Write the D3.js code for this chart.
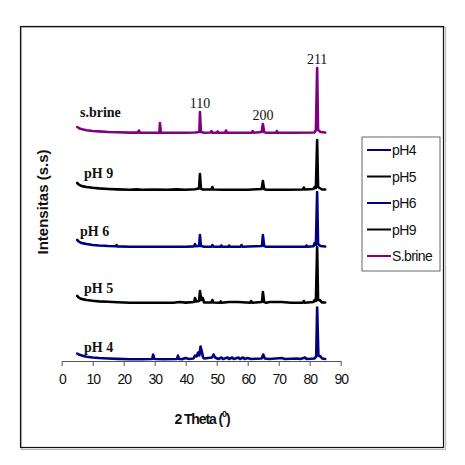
<!DOCTYPE html>
<html>
<head>
<meta charset="utf-8">
<script src="https://cdn.jsdelivr.net/npm/d3@7"></script>
<style>
body{margin:0;background:#fff;}
svg{display:block;}
</style>
</head>
<body>
<svg id="chart" width="465" height="465"></svg>
<script>
// series names, drawing order = legend order
var seriesNames=["pH4","pH5","pH6","pH9","S.brine"];
var seriesColors=["#000080","#000000","#000080","#000000","#800080"];
var curveLabels=["pH 4","pH 5","pH 6","pH 9","s.brine"];
// vertical offset of each pattern (stacked plot, intensity units)
var offsets=[1.5,58,114,171,228];
var xTicks=[0,10,20,30,40,50,60,70,80,90];

// [2theta, intensity]
var pH4=[[5,6],[5.5,5],[6,4.5],[7,3.5],[8,2.8],[10,2],[12,1.5],[15,1],[18,0.6],[22,0.3],[26,0.3],[29.2,0.5],[29.5,5],[29.9,0.5],[33,0.3],[37.2,0.5],[37.5,4],[37.8,0.5],[39,0.4],[40,1.5],[41,0.5],[42.5,1],[43,4],[43.5,3],[44,7],[44.4,4],[44.8,13],[45.2,8],[45.6,2],[46,1],[48.5,2],[49,5],[49.5,2],[50.5,0.5],[51.5,2],[52,0.5],[53.5,2],[54,0.5],[55,2],[55.5,0.5],[57,2],[57.5,0.5],[58.5,2],[59,0.5],[60,1.5],[61,0.5],[64.5,1],[65,5],[65.5,1],[67,0.5],[71,1.5],[72,0.5],[76,1],[77,0.5],[78.5,2],[79,0.5],[81.5,1],[82.1,3],[82.4,52],[82.8,4],[83.5,3],[84,1],[85,0.5]];
var pH5=[[5,7],[5.5,5.5],[6,4.5],[7,3.6],[8,3],[10,2.2],[12,1.6],[15,1.2],[18,0.8],[22,0.3],[24,0.2],[30,0.2],[36,0.3],[38,1],[40,0.4],[42.7,1],[43,5],[43.4,1.5],[44.3,2],[44.6,12],[45,3],[45.5,5],[45.9,0.6],[48.3,0.5],[48.6,3],[48.9,0.5],[51,0.3],[51.3,1.5],[51.6,0.3],[54,1],[57,1],[60.8,0.3],[61.1,2],[61.4,0.3],[64.6,1],[64.9,11],[65.3,1],[66,0.3],[67,1],[71,1],[74,0.3],[77.8,0.3],[78.1,2],[78.4,0.3],[81.2,1],[81.6,3],[82,2],[82.4,56],[82.7,3],[83.2,3],[84,0.5],[85,0.5]];
var pH6=[[5,7],[5.5,5.5],[6,4.6],[7,3.6],[8,3],[10,2],[12,1.5],[15,1],[17.5,0.8],[17.7,2],[17.9,0.6],[22,0.3],[26,0.2],[30,0.3],[35,0.3],[40,0.3],[42.7,0.6],[43,3],[43.3,0.8],[44.3,1],[44.6,12],[44.9,1],[46,0.3],[48.3,0.3],[48.6,2],[48.9,0.3],[51.2,0.3],[51.5,1.5],[51.8,0.3],[53.8,0.3],[54,1.5],[54.3,0.3],[57.7,0.3],[58,2],[58.3,0.3],[64.6,1],[64.9,12],[65.3,1],[66,0.3],[72,0.3],[78.7,0.3],[79,1.5],[79.3,0.3],[81.2,0.8],[81.6,4],[82,2],[82.4,55],[82.7,3],[83.5,1],[85,0.5]];
var pH9=[[5,7],[5.5,5.5],[6,4.6],[7,3.6],[8,3],[10,2.2],[12,1.6],[15,1],[18,0.6],[22,0.3],[24,0.6],[26,0.2],[30,0.5],[34,0.2],[37,0.6],[40,0.3],[43,0.8],[44.3,1.5],[44.6,16],[44.9,1.5],[45.5,0.5],[48.3,0.5],[48.6,3],[48.9,0.5],[52,0.3],[55,0.3],[60,0.3],[64.5,1],[64.9,9],[65.3,1],[66,0.3],[72,0.3],[77.8,0.5],[78.1,2.5],[78.4,0.5],[81.2,1],[81.6,3],[82,2],[82.4,50],[82.7,3],[83.2,2],[84,0.5],[85,0.5]];
var sBrine=[[5,6],[5.5,5],[6,4.3],[7,3.5],[8,2.8],[10,2],[12,1.6],[15,1],[18,0.7],[22,0.4],[24.6,0.4],[24.9,2.5],[25.2,0.4],[28,0.3],[31.5,0.3],[31.7,10],[32,0.3],[36,0.2],[40,0.2],[43,0.5],[44.4,1],[44.6,21],[44.9,1],[46,0.3],[48,0.5],[48.3,2],[48.6,0.3],[50,0.3],[50.3,1.5],[50.6,0.3],[52.7,0.3],[53,2.5],[53.3,0.3],[58,0.2],[61.3,0.3],[61.6,2],[61.9,0.3],[64.5,1],[64.9,9],[65.3,1],[66,0.3],[69.2,0.3],[69.4,2],[69.6,0.3],[75,0.2],[81.5,0.5],[82,3],[82.4,65],[82.7,3],[83.5,1],[85,0.5]];
var allSeries=[pH4,pH5,pH6,pH9,sBrine];

// hkl labels over s.brine peaks
var hklLabels=["110","200","211"];
var hklPos=[44.6,64.9,82.4];
var hklHeight=[21,9,65];

var svg=d3.select("#chart");

// outer frame
svg.append("rect").attr("x",21.5).attr("y",27.5).attr("width",424).attr("height",422)
	.attr("fill","none").attr("stroke","#bbb").attr("stroke-width",1.2);
svg.append("rect").attr("x",20.5).attr("y",26.5).attr("width",423).attr("height",421)
	.attr("fill","none").attr("stroke","#111").attr("stroke-width",1.2);

var x=d3.scaleLinear().domain([0,90]).range([61.7,340.7]);
var y=d3.scaleLinear().domain([0,300]).range([361,61]);

var xAxis=d3.axisBottom(x).tickValues(xTicks).tickSize(5).tickSizeOuter(0).tickPadding(8);
var gx=svg.append("g").attr("transform","translate(0,361)").call(xAxis);
gx.select(".domain").attr("stroke","#555").attr("stroke-width",1);
gx.selectAll(".tick line").attr("stroke","#555");
gx.selectAll("text").attr("font-family","'Liberation Sans',Arial,sans-serif")
	.attr("font-size",14).attr("letter-spacing",-1.2).attr("fill","#111");

var line=d3.line().x(d=>x(d[0]));

allSeries.forEach(function(s,i){
	line.y(d=>y(d[1]+offsets[i]));
	svg.append("path").datum(s)
		.attr("d",line)
		.attr("fill","none")
		.attr("stroke",seriesColors[i])
		.attr("stroke-width",2.6)
		.attr("stroke-linejoin","round")
		.attr("stroke-linecap","round");
});

// curve labels
var labelX=[84,84,80,84,80];
var labelDy=[8,10,11,12,16];
curveLabels.forEach(function(t,i){
	svg.append("text").attr("x",labelX[i]).attr("y",y(offsets[i])-labelDy[i])
		.attr("font-family","'Liberation Serif','Times New Roman',serif")
		.attr("font-weight","bold").attr("font-size",14).attr("fill","#111")
		.text(t);
});

// hkl peak labels
hklLabels.forEach(function(t,i){
	svg.append("text").attr("x",x(hklPos[i])).attr("y",y(hklHeight[i]+offsets[4])-4)
		.attr("text-anchor","middle")
		.attr("font-family","'Liberation Serif','Times New Roman',serif")
		.attr("font-size",14).attr("fill","#111")
		.text(t);
});

// axis titles
var xt=svg.append("text").attr("x",202).attr("y",424).attr("text-anchor","middle")
	.attr("font-family","'Liberation Sans',Arial,sans-serif").attr("font-weight","bold")
	.attr("font-size",14).attr("letter-spacing",-1.1).attr("fill","#111");
xt.append("tspan").text("2 Theta (");
xt.append("tspan").attr("font-size",9).attr("dy",-7).text("0");
xt.append("tspan").attr("dy",7).text(")");

svg.append("text").attr("transform","translate(48,202) rotate(-90)").attr("text-anchor","middle")
	.attr("font-family","'Liberation Sans',Arial,sans-serif").attr("font-weight","bold")
	.attr("font-size",15).attr("fill","#111")
	.text("Intensitas (s.s)");

// legend
var leg=svg.append("g");
leg.append("rect").attr("x",362).attr("y",137).attr("width",78).attr("height",134)
	.attr("fill","#fff").attr("stroke","#666").attr("stroke-width",1);
seriesNames.forEach(function(n,i){
	var ly=150+i*26.5;
	leg.append("line").attr("x1",367).attr("x2",391).attr("y1",ly).attr("y2",ly)
		.attr("stroke",seriesColors[i]).attr("stroke-width",2);
	leg.append("text").attr("x",392).attr("y",ly+5)
		.attr("font-family","'Liberation Sans',Arial,sans-serif")
		.attr("font-size",14).attr("letter-spacing",-0.6).attr("fill","#111")
		.text(n);
});
</script>
</body>
</html>
